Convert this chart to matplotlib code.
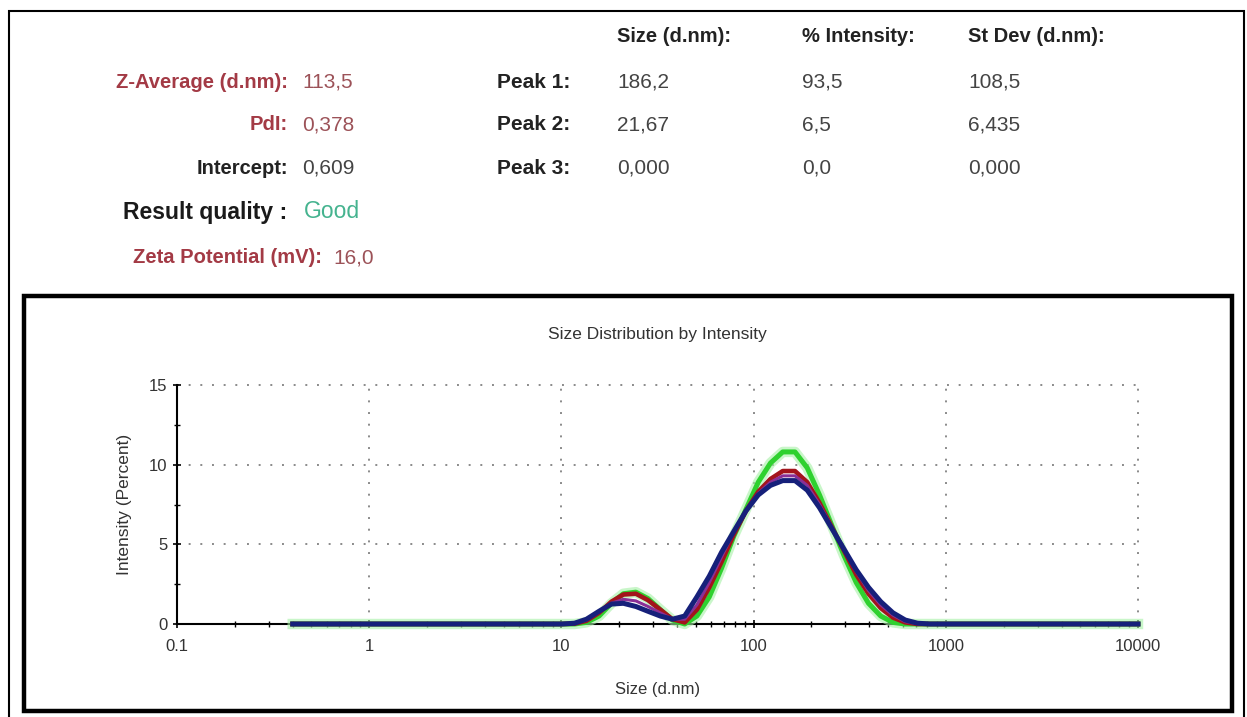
import numpy as np
import matplotlib.pyplot as plt
from matplotlib.patches import Rectangle
from matplotlib.ticker import LogLocator, MultipleLocator, FixedLocator, FixedFormatter

plt.rcParams['font.family'] = ['Liberation Sans', 'DejaVu Sans']

# size classes (d.nm)
size_nm = [0.4, 1.0, 5.0, 10.1, 11.7, 13.5, 15.7, 18.2, 21.0, 24.4, 28.2, 32.7,
           37.8, 43.8, 50.7, 58.8, 68.1, 78.8, 91.3, 105.7, 122.4, 141.8, 164.2,
           190.1, 220.2, 255.0, 295.3, 342.0, 396.1, 458.7, 531.2, 615.1, 712.4,
           825.0, 955.4, 2000.0, 10000.0]

# intensity (%) for the runs
run_green = [0, 0, 0, 0, 0.0, 0.1, 0.5, 1.3, 1.9, 2.0, 1.6, 0.9,
             0.25, 0.0, 0.5, 1.7, 3.5, 5.5, 7.2, 8.9, 10.1, 10.8, 10.8,
             9.8, 8.1, 6.2, 4.3, 2.6, 1.3, 0.5, 0.1, 0.0, 0.0,
             0, 0, 0, 0]
run_red = [0, 0, 0, 0, 0.02, 0.2, 0.7, 1.4, 1.85, 1.9, 1.5, 0.9,
           0.3, 0.1, 0.9, 2.3, 3.9, 5.6, 7.1, 8.3, 9.1, 9.6, 9.6,
           8.9, 7.6, 6.1, 4.6, 3.1, 1.9, 1.0, 0.4, 0.1, 0.0,
           0, 0, 0, 0]
run_purple = [0, 0, 0, 0, 0.03, 0.25, 0.75, 1.3, 1.55, 1.45, 1.1, 0.7,
              0.3, 0.3, 1.2, 2.6, 4.2, 5.8, 7.1, 8.2, 8.9, 9.3, 9.3,
              8.7, 7.5, 6.1, 4.7, 3.3, 2.1, 1.2, 0.55, 0.15, 0.02,
              0, 0, 0, 0]
run_blue = [0, 0, 0, 0, 0.05, 0.3, 0.8, 1.25, 1.3, 1.1, 0.8, 0.5,
            0.3, 0.5, 1.7, 3.0, 4.5, 5.8, 7.1, 8.1, 8.7, 9.0, 9.0,
            8.4, 7.3, 6.0, 4.7, 3.4, 2.3, 1.4, 0.7, 0.25, 0.05,
            0, 0, 0, 0]

x_ticks = [0.1, 1, 10, 100, 1000, 10000]
x_ticklabels = ['0.1', '1', '10', '100', '1000', '10000']
y_ticks = [0, 5, 10, 15]

# header block: (label, value, y, label colour, value colour)
left_rows = [
    ('Z-Average (d.nm):', '113,5', 82, '#a33a45', '#9c5258'),
    ('PdI:', '0,378', 125, '#a33a45', '#9c5258'),
    ('Intercept:', '0,609', 168, '#222222', '#444444'),
    ('Zeta Potential (mV):', '16,0', 258, '#a33a45', '#9c5258'),
]
table_cols = ['Size (d.nm):', '% Intensity:', 'St Dev (d.nm):']
peak_names = ['Peak 1:', 'Peak 2:', 'Peak 3:']
peak_size = ['186,2', '21,67', '0,000']
peak_int = ['93,5', '6,5', '0,0']
peak_sd = ['108,5', '6,435', '0,000']

W, H = 1247, 717
fig = plt.figure(figsize=(W / 100, H / 100), dpi=100)


def fx(px):
    return px / W


def fy(py):
    return 1 - py / H


# outer border of the report and the plot frame
fig.add_artist(Rectangle((fx(9), -0.2), fx(1244) - fx(9), fy(11) + 0.2,
                         transform=fig.transFigure, fill=False, lw=1.5, ec='black'))
fig.add_artist(Rectangle((fx(24), fy(711)), fx(1232) - fx(24), fy(296) - fy(711),
                         transform=fig.transFigure, fill=False, lw=3.2, ec='black'))

# header text
for lab, val, y, c1, c2 in left_rows:
    x_lab = 288 if lab != 'Zeta Potential (mV):' else 322
    x_val = 302 if lab != 'Zeta Potential (mV):' else 333
    fig.text(fx(x_lab), fy(y), lab, ha='right', va='center', fontsize=14.5,
             color=c1, fontweight='bold')
    fig.text(fx(x_val), fy(y), val, ha='left', va='center', fontsize=15, color=c2)
fig.text(fx(287), fy(212), 'Result quality :', ha='right', va='center', fontsize=16.5,
         color='#1a1a1a', fontweight='bold')
fig.text(fx(304), fy(212), 'Good', ha='left', va='center', fontsize=16.5, color='#45b38f')

col_x = [617, 802, 968]
for cx, name in zip(col_x, table_cols):
    fig.text(fx(cx), fy(37), name, ha='left', va='center', fontsize=14.5,
             color='#222222', fontweight='bold')
row_y = [82, 125, 168]
for i, ry in enumerate(row_y):
    fig.text(fx(570), fy(ry), peak_names[i], ha='right', va='center', fontsize=15,
             color='#222222', fontweight='bold')
    for cx, col in zip(col_x, [peak_size, peak_int, peak_sd]):
        fig.text(fx(cx), fy(ry), col[i], ha='left', va='center', fontsize=15, color='#444444')

# the distribution plot
ax = fig.add_axes([fx(177), fy(624), fx(1138) - fx(177), fy(385) - fy(624)])
ax.set_xscale('log')
ax.set_xlim(0.1, 10000)
ax.set_ylim(0, 15)

ax.plot(size_nm, run_green, color='#a6f0a6', lw=7.5, alpha=0.6, clip_on=False, zorder=3)
ax.plot(size_nm, run_green, color='#2fd12f', lw=3.6, clip_on=False, zorder=4)
ax.plot(size_nm, run_red, color='#a3141c', lw=3.3, clip_on=False, zorder=5)
ax.plot(size_nm, run_purple, color='#8a2f96', lw=2.2, clip_on=False, zorder=6)
ax.plot(size_nm, run_blue, color='#16207a', lw=3.6, clip_on=False, zorder=7)

for s in ['top', 'right']:
    ax.spines[s].set_visible(False)
ax.spines['left'].set_linewidth(1.5)
ax.spines['bottom'].set_linewidth(1.5)

ax.xaxis.set_major_locator(FixedLocator(x_ticks))
ax.xaxis.set_major_formatter(FixedFormatter(x_ticklabels))
ax.xaxis.set_minor_locator(LogLocator(base=10, subs=np.arange(2, 10)))
ax.xaxis.set_minor_formatter(plt.NullFormatter())
ax.yaxis.set_major_locator(FixedLocator(y_ticks))
ax.yaxis.set_minor_locator(MultipleLocator(2.5))

ax.tick_params(axis='both', which='major', direction='inout', length=6, width=1.2,
               labelsize=12, colors='black', labelcolor='#333333')
ax.tick_params(axis='both', which='minor', direction='inout', length=5, width=1.0)
ax.tick_params(axis='x', which='major', pad=8)
ax.tick_params(axis='y', which='major', pad=4)

ax.grid(True, which='major', color='#8a8a8a', linestyle=(0, (1, 5)), lw=1.4)
for gl in ax.get_xgridlines() + ax.get_ygridlines():
    gl.set_clip_on(False)

ax.set_title('Size Distribution by Intensity', fontsize=12.5, color='#333333', pad=33)
ax.set_xlabel('Size (d.nm)', fontsize=12, color='#333333', labelpad=20)
ax.set_ylabel('Intensity (Percent)', fontsize=12.5, color='#333333', labelpad=12)

fig.savefig('out.png', dpi=100, facecolor='white')
